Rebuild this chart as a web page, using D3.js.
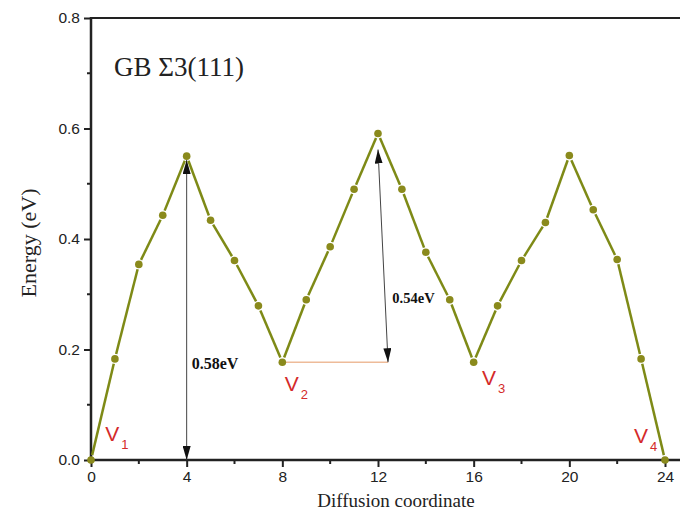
<!DOCTYPE html>
<html>
<head>
<meta charset="utf-8">
<script src="https://cdn.jsdelivr.net/npm/d3@7"></script>
<style>
  body { margin: 0; background: #fff; }
  svg { display: block; }
</style>
</head>
<body>
<svg width="680" height="515"></svg>
<script>
// diffusion path along the GB
const coords = d3.range(0, 25);
const energies = [0, 0.183, 0.354, 0.443, 0.550, 0.434, 0.361, 0.279, 0.177,
  0.290, 0.386, 0.490, 0.591, 0.490, 0.376, 0.290, 0.177,
  0.279, 0.361, 0.430, 0.551, 0.453, 0.363, 0.183, 0];
const xTicks = [0, 4, 8, 12, 16, 20, 24];
const yTicks = [0.0, 0.2, 0.4, 0.6, 0.8];
const vacancies = [
  { name: 'V', sub: '1', x: 0.6, y: 0.034 },
  { name: 'V', sub: '2', x: 8.1, y: 0.125 },
  { name: 'V', sub: '3', x: 16.35, y: 0.136 },
  { name: 'V', sub: '4', x: 22.7, y: 0.031 }
];
const barriers = [
  { label: '0.58eV', x1: 4, y1: 0, x2: 4, y2: 0.543 },
  { label: '0.54eV', x1: 12.42, y1: 0.177, x2: 12, y2: 0.562 }
];

const data = coords.map((c, i) => ({ x: c, y: energies[i] }));

const svg = d3.select('svg');
const x = d3.scaleLinear().domain([0, 24]).range([91, 665]);
const y = d3.scaleLinear().domain([0, 0.8]).range([460, 18]);

// arrow heads
const defs = svg.append('defs');
defs.append('marker')
  .attr('id', 'head')
  .attr('viewBox', '0 0 10 10')
  .attr('preserveAspectRatio', 'none')
  .attr('refX', 10).attr('refY', 5)
  .attr('markerWidth', 14).attr('markerHeight', 8)
  .attr('markerUnits', 'userSpaceOnUse')
  .attr('orient', 'auto-start-reverse')
  .append('path')
  .attr('d', 'M0,0 L10,5 L0,10 Z')
  .attr('fill', '#111');

// top frame line
svg.append('line')
  .attr('x1', 91).attr('x2', 700)
  .attr('y1', y(0.8)).attr('y2', y(0.8))
  .attr('stroke', '#222').attr('stroke-width', 2);

// axes
const xAxis = d3.axisBottom(x).tickValues(xTicks).tickSize(7).tickPadding(4);
const yAxis = d3.axisLeft(y).tickValues(yTicks).tickSize(7).tickPadding(4)
  .tickFormat(d3.format('.1f'));

const gx = svg.append('g').attr('transform', `translate(0,${y(0)})`).call(xAxis);
const gy = svg.append('g').attr('transform', `translate(${x(0)},0)`).call(yAxis);

// minor ticks
gx.selectAll('.minor').data(d3.range(2, 25, 4)).enter().append('line')
  .attr('x1', d => x(d)).attr('x2', d => x(d))
  .attr('y1', 0).attr('y2', 4)
  .attr('stroke', '#222').attr('stroke-width', 2);
gy.selectAll('.minor').data([0.1, 0.3, 0.5, 0.7]).enter().append('line')
  .attr('y1', d => y(d)).attr('y2', d => y(d))
  .attr('x1', 0).attr('x2', -4)
  .attr('stroke', '#222').attr('stroke-width', 2);

[gx, gy].forEach(g => {
  g.select('.domain').remove();
  g.selectAll('.tick line').attr('stroke', '#222').attr('stroke-width', 2);
  g.selectAll('.tick text')
    .attr('fill', '#222')
    .style('font-family', '"Liberation Sans", Arial, sans-serif')
    .style('font-size', '15.5px');
});
gx.append('line').attr('x1', x(0) - 1).attr('x2', 700)
  .attr('stroke', '#222').attr('stroke-width', 2.5);
gy.append('line').attr('y1', y(0) + 1).attr('y2', y(0.8) - 1)
  .attr('stroke', '#222').attr('stroke-width', 2.5);

// axis titles
svg.append('text')
  .attr('x', 396).attr('y', 507)
  .attr('text-anchor', 'middle')
  .style('font-family', '"Liberation Serif", "Times New Roman", serif')
  .style('font-size', '19px')
  .attr('fill', '#222')
  .text('Diffusion coordinate');

svg.append('text')
  .attr('transform', 'translate(36,243) rotate(-90)')
  .attr('text-anchor', 'middle')
  .style('font-family', '"Liberation Serif", "Times New Roman", serif')
  .style('font-size', '22px')
  .attr('fill', '#222')
  .text('Energy (eV)');

svg.append('text')
  .attr('x', 114).attr('y', 76)
  .style('font-family', '"Liberation Serif", "Times New Roman", serif')
  .style('font-size', '27px')
  .attr('fill', '#222')
  .text('GB Σ3(111)');

// reference level V2 -> second peak
svg.append('line')
  .attr('x1', x(8)).attr('x2', x(12.42))
  .attr('y1', y(0.177)).attr('y2', y(0.177))
  .attr('stroke', '#eebb99').attr('stroke-width', 1.5);

// barrier arrows
svg.selectAll('.barrier').data(barriers).enter().append('line')
  .attr('x1', d => x(d.x1)).attr('y1', d => y(d.y1))
  .attr('x2', d => x(d.x2)).attr('y2', d => y(d.y2))
  .attr('stroke', '#444').attr('stroke-width', 1)
  .attr('marker-start', 'url(#head)')
  .attr('marker-end', 'url(#head)');

svg.append('text')
  .attr('x', x(4) + 5).attr('y', y(0.165))
  .style('font-family', '"Liberation Serif", "Times New Roman", serif')
  .style('font-weight', 'bold').style('font-size', '16px')
  .attr('fill', '#111')
  .text(barriers[0].label);
svg.append('text')
  .attr('x', x(12.6)).attr('y', y(0.285))
  .style('font-family', '"Liberation Serif", "Times New Roman", serif')
  .style('font-weight', 'bold').style('font-size', '14.5px')
  .attr('fill', '#111')
  .text(barriers[1].label);

// energy path: segments with gaps at the markers
const gap = 5;
const segs = d3.pairs(data).map(([a, b]) => {
  const ax = x(a.x), ay = y(a.y), bx = x(b.x), by = y(b.y);
  const len = Math.hypot(bx - ax, by - ay);
  const ux = (bx - ax) / len, uy = (by - ay) / len;
  return { x1: ax + ux * gap, y1: ay + uy * gap, x2: bx - ux * gap, y2: by - uy * gap };
});
svg.selectAll('.seg').data(segs).enter().append('line')
  .attr('x1', d => d.x1).attr('y1', d => d.y1)
  .attr('x2', d => d.x2).attr('y2', d => d.y2)
  .attr('stroke', '#7e8a16').attr('stroke-width', 2.5);

svg.selectAll('.pt').data(data).enter().append('circle')
  .attr('cx', d => x(d.x)).attr('cy', d => y(d.y))
  .attr('r', 3.8)
  .attr('fill', '#8a8a1c');

// vacancy labels
const vl = svg.selectAll('.vac').data(vacancies).enter().append('text')
  .attr('x', d => x(d.x)).attr('y', d => y(d.y))
  .style('font-family', '"Liberation Sans", Arial, sans-serif')
  .attr('fill', '#d42a2a');
vl.append('tspan').style('font-size', '21px').text(d => d.name);
vl.append('tspan').style('font-size', '13px').attr('dx', 2).attr('dy', 8).text(d => d.sub);
</script>
</body>
</html>
